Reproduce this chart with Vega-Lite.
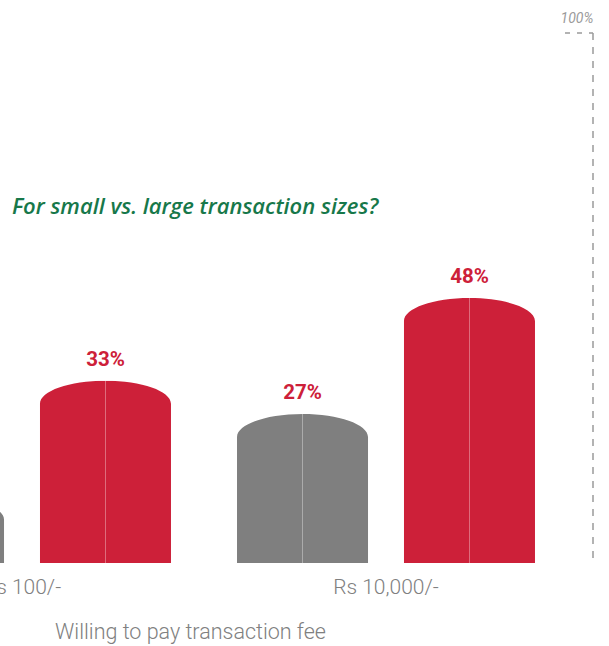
{
  "$schema": "https://vega.github.io/schema/vega-lite/v6.json",
  "width": 609,
  "height": 563,
  "autosize": {"type": "none"},
  "padding": {"left": 0, "top": 0, "right": 0, "bottom": 83},
  "background": "white",
  "config": {"view": {"stroke": null}},
  "title": {
    "text": "For small vs. large transaction sizes?",
    "anchor": "start",
    "frame": "group",
    "orient": "top",
    "offset": 0,
    "dx": 12,
    "dy": 236,
    "baseline": "alphabetic",
    "font": "Open Sans",
    "fontSize": 22,
    "fontStyle": "italic",
    "fontWeight": 600,
    "color": "#17784a"
  },
  "data": {
    "values": [
      {"group": "Rs 100/-", "series": "gray", "value": 12, "label": "12%"},
      {"group": "Rs 100/-", "series": "red", "value": 33, "label": "33%"},
      {"group": "Rs 10,000/-", "series": "gray", "value": 27, "label": "27%"},
      {"group": "Rs 10,000/-", "series": "red", "value": 48, "label": "48%"}
    ]
  },
  "layer": [
    {
      "encoding": {
        "x": {
          "field": "group",
          "type": "nominal",
          "scale": {"domain": ["Rs 100/-", "Rs 10,000/-"], "range": [-160, 568], "paddingInner": 0, "paddingOuter": 0},
          "axis": {
            "domain": false,
            "ticks": false,
            "grid": false,
            "labelAngle": 0,
            "labelFont": "Roboto",
            "labelFontSize": 21,
            "labelFontWeight": 300,
            "labelColor": "#808080",
            "labelPadding": 13,
            "title": "Willing to pay transaction fee",
            "titleFont": "Roboto",
            "titleFontSize": 21.5,
            "titleFontWeight": 300,
            "titleColor": "#808080",
            "titleX": 190,
            "titleY": 75,
            "titleBaseline": "alphabetic",
            "titleAlign": "center"
          }
        },
        "xOffset": {
          "field": "series",
          "type": "nominal",
          "scale": {"domain": ["gray", "red"], "paddingInner": 0, "paddingOuter": 0.09}
        },
        "y": {
          "field": "value",
          "type": "quantitative",
          "scale": {"domain": [0, 102], "nice": false},
          "axis": null
        }
      },
      "layer": [
        {
          "mark": {"type": "bar", "width": 131},
          "encoding": {
            "color": {
              "field": "series",
              "type": "nominal",
              "scale": {"domain": ["gray", "red"], "range": ["#7f7f7f", "#cd2039"]},
              "legend": null
            }
          }
        },
        {
          "mark": {
            "type": "point",
            "shape": "M-1.03,-0.02 L1.03,-0.02 L1.03,0.351 L1,0.351 A1,0.351 0 0,0 -1,0.351 L-1.03,0.351 Z",
            "size": 17161,
            "filled": true,
            "color": "white",
            "opacity": 1,
            "strokeWidth": 0
          }
        },
        {
          "mark": {"type": "rule", "color": "white", "opacity": 0.35, "strokeWidth": 1},
          "encoding": {"y2": {"datum": 0}}
        },
        {
          "mark": {
            "type": "text",
            "dy": -15,
            "baseline": "alphabetic",
            "font": "Roboto",
            "fontSize": 20.5,
            "fontWeight": "bold",
            "color": "#cd2039"
          },
          "encoding": {"text": {"field": "label", "type": "nominal"}}
        }
      ]
    },
    {
      "data": {"values": [{"group": "Rs 10,000/-"}]},
      "mark": {"type": "rule", "color": "#9a9a9a", "strokeWidth": 1.5, "strokeDash": [7, 7], "xOffset": 207},
      "encoding": {
        "x": {"field": "group", "type": "nominal"},
        "y": {"datum": 96, "type": "quantitative"},
        "y2": {"datum": 0}
      }
    },
    {
      "data": {"values": [{"group": "Rs 10,000/-"}]},
      "mark": {"type": "rule", "color": "#9a9a9a", "strokeWidth": 1.5, "strokeDash": [5, 7], "xOffset": 179, "x2Offset": 207},
      "encoding": {
        "x": {"field": "group", "type": "nominal"},
        "x2": {"field": "group"},
        "y": {"datum": 96, "type": "quantitative"}
      }
    },
    {
      "data": {"values": [{"group": "Rs 10,000/-", "label": "100%"}]},
      "mark": {
        "type": "text",
        "xOffset": 191,
        "dy": -10,
        "baseline": "alphabetic",
        "font": "Roboto",
        "fontSize": 14,
        "fontStyle": "italic",
        "color": "#9a9a9a"
      },
      "encoding": {
        "x": {"field": "group", "type": "nominal"},
        "y": {"datum": 96, "type": "quantitative"},
        "text": {"field": "label", "type": "nominal"}
      }
    }
  ]
}
